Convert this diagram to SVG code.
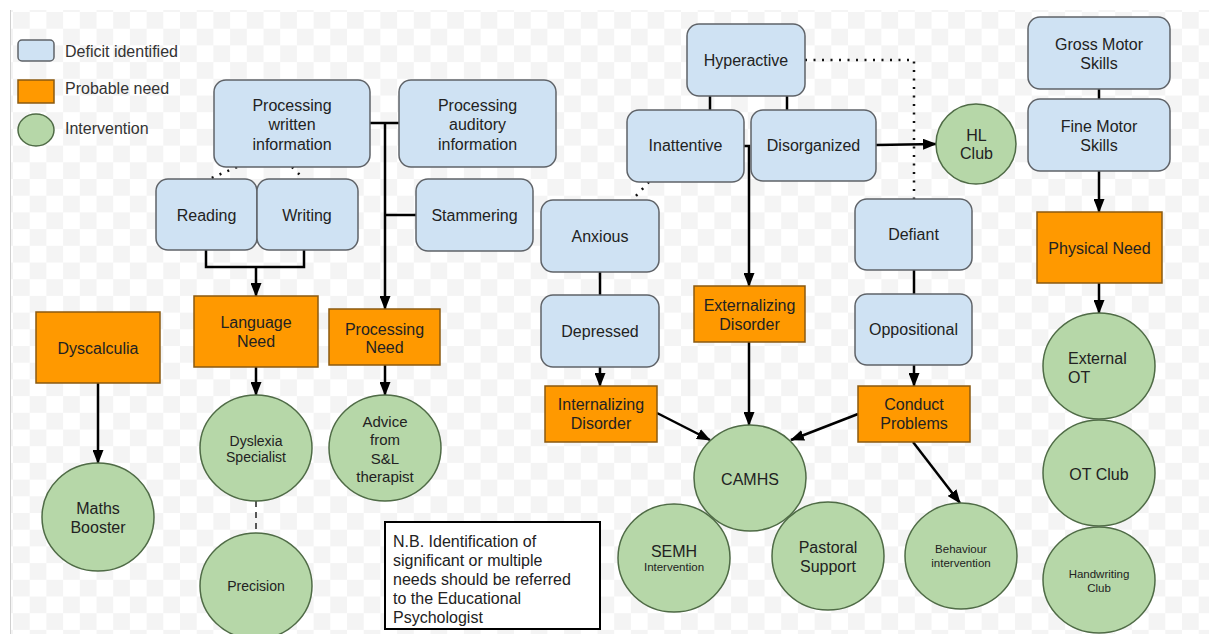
<svg xmlns="http://www.w3.org/2000/svg" width="1209" height="634" viewBox="0 0 1209 634">
<style>
text{font-family:"Liberation Sans",Arial,sans-serif;fill:#222;}
.t16{font-size:16px;text-anchor:middle;}
.t15{font-size:15px;text-anchor:middle;}
.t14{font-size:14px;text-anchor:middle;}
.t11{font-size:11.5px;text-anchor:middle;}
.leg{font-size:16px;fill:#333;}
.note{font-size:16px;fill:#222;}
.blue{fill:#cfe2f3;stroke:#5f6368;stroke-width:1.5;}
.orange{fill:#ff9900;stroke:#8a5a10;stroke-width:1.5;}
.green{fill:#b6d7a8;stroke:#4f6b46;stroke-width:1.5;}
.c{fill:none;stroke:#000;stroke-width:2.5;}
.a{fill:none;stroke:#000;stroke-width:2.5;marker-end:url(#arr);}
.dot{fill:none;stroke:#111;stroke-width:2.5;stroke-dasharray:2 6.5;}
.dash{fill:none;stroke:#222;stroke-width:1.5;stroke-dasharray:6 5;}
</style>
<defs>
<pattern id="chk" patternUnits="userSpaceOnUse" x="13" y="12" width="33.4" height="33.4">
<rect width="33.4" height="33.4" fill="#ffffff"/>
<rect width="16.7" height="16.7" fill="#f4f4f4"/>
<rect x="16.7" y="16.7" width="16.7" height="16.7" fill="#f4f4f4"/>
</pattern>
<marker id="arr" markerUnits="userSpaceOnUse" markerWidth="14" markerHeight="11" refX="13" refY="5.5" orient="auto">
<path d="M0,0 L14,5.5 L0,11 Z" fill="#000"/>
</marker>
</defs>
<rect width="1209" height="634" fill="#fff"/>
<rect x="10" y="10" width="1199" height="624" fill="url(#chk)"/>
<line x1="10.5" y1="10" x2="10.5" y2="634" stroke="#d0d0d0" stroke-width="1"/>

<g id="legend">
<rect x="18" y="40" width="36" height="21" rx="4" class="blue"/>
<text x="65" y="56.5" class="leg">Deficit identified</text>
<rect x="18" y="80" width="36" height="23" class="orange"/>
<text x="65" y="94" class="leg">Probable need</text>
<ellipse cx="36" cy="130" rx="18" ry="16" class="green"/>
<text x="65" y="133.5" class="leg">Intervention</text>
</g>

<g id="connectors">
<line x1="370" y1="123" x2="399" y2="123" class="c"/>
<line x1="385" y1="123" x2="385" y2="309" class="a"/>
<line x1="385" y1="215" x2="416" y2="215" class="c"/>
<polyline points="206,250 206,267 304,267 304,250" class="c"/>
<line x1="256" y1="267" x2="256" y2="296" class="a"/>
<line x1="237" y1="167" x2="209" y2="179" class="dot"/>
<line x1="292" y1="167" x2="304" y2="179" class="dot"/>
<line x1="710" y1="96" x2="710" y2="110" class="c"/>
<line x1="787" y1="96" x2="787" y2="110" class="c"/>
<polyline points="744,146 749,146 749,286" class="a"/>
<line x1="876" y1="145" x2="936" y2="144" class="a"/>
<polyline points="805,60 914,60 914,199" class="dot"/>
<line x1="649" y1="182" x2="633" y2="199" class="dot"/>
<line x1="600" y1="272" x2="600" y2="295" class="c"/>
<line x1="600" y1="367" x2="600" y2="386" class="a"/>
<line x1="914" y1="270" x2="914" y2="294" class="c"/>
<line x1="914" y1="365" x2="914" y2="386" class="a"/>
<line x1="749" y1="342" x2="749" y2="425" class="a"/>
<line x1="657" y1="413" x2="710" y2="440" class="a"/>
<line x1="858" y1="414" x2="791" y2="440" class="a"/>
<line x1="913" y1="442" x2="960" y2="503" class="a"/>
<line x1="1099" y1="89" x2="1099" y2="99" class="c"/>
<line x1="1099" y1="171" x2="1099" y2="212" class="a"/>
<line x1="1099" y1="283" x2="1099" y2="313" class="a"/>
<line x1="98" y1="383" x2="98" y2="463" class="a"/>
<line x1="256" y1="367" x2="256" y2="395" class="a"/>
<line x1="385" y1="365" x2="385" y2="395" class="a"/>
<line x1="256" y1="501" x2="256" y2="533" class="dash"/>
</g>

<g id="n-proc-written"><rect x="214" y="80" width="156" height="87" rx="12" class="blue"/>
<text class="t16" x="292" y="110.5">Processing</text><text class="t16" x="292" y="130">written</text><text class="t16" x="292" y="149.5">information</text></g>
<g id="n-proc-auditory"><rect x="399" y="80" width="157" height="87" rx="12" class="blue"/>
<text class="t16" x="477.5" y="110.5">Processing</text><text class="t16" x="477.5" y="130">auditory</text><text class="t16" x="477.5" y="149.5">information</text></g>
<g id="n-reading"><rect x="156" y="179" width="101" height="71" rx="12" class="blue"/>
<text class="t16" x="206.5" y="220.5">Reading</text></g>
<g id="n-writing"><rect x="257" y="179" width="101" height="71" rx="12" class="blue"/>
<text class="t16" x="307" y="220.5">Writing</text></g>
<g id="n-stammering"><rect x="416" y="179" width="117" height="72" rx="12" class="blue"/>
<text class="t16" x="474.5" y="220.5">Stammering</text></g>
<g id="n-hyperactive"><rect x="687" y="24" width="118" height="72" rx="12" class="blue"/>
<text class="t16" x="746" y="66">Hyperactive</text></g>
<g id="n-inattentive"><rect x="627" y="110" width="117" height="72" rx="12" class="blue"/>
<text class="t16" x="685.5" y="151">Inattentive</text></g>
<g id="n-disorganized"><rect x="751" y="110" width="125" height="71" rx="12" class="blue"/>
<text class="t16" x="813.5" y="151">Disorganized</text></g>
<g id="n-anxious"><rect x="541" y="200" width="118" height="72" rx="12" class="blue"/>
<text class="t16" x="600" y="242">Anxious</text></g>
<g id="n-depressed"><rect x="541" y="295" width="118" height="72" rx="12" class="blue"/>
<text class="t16" x="600" y="337">Depressed</text></g>
<g id="n-defiant"><rect x="855" y="199" width="117" height="71" rx="12" class="blue"/>
<text class="t16" x="913.5" y="240">Defiant</text></g>
<g id="n-oppositional"><rect x="855" y="294" width="117" height="71" rx="12" class="blue"/>
<text class="t16" x="913.5" y="335">Oppositional</text></g>
<g id="n-gross-motor"><rect x="1028" y="17" width="142" height="72" rx="12" class="blue"/>
<text class="t16" x="1099" y="50">Gross Motor</text><text class="t16" x="1099" y="69">Skills</text></g>
<g id="n-fine-motor"><rect x="1028" y="99" width="142" height="72" rx="12" class="blue"/>
<text class="t16" x="1099" y="132">Fine Motor</text><text class="t16" x="1099" y="151">Skills</text></g>

<g id="n-dyscalculia"><rect x="36" y="312" width="124" height="71" class="orange"/>
<text class="t16" x="98" y="353.5">Dyscalculia</text></g>
<g id="n-language-need"><rect x="194" y="296" width="124" height="71" class="orange"/>
<text class="t16" x="256" y="327.5">Language</text><text class="t16" x="256" y="347">Need</text></g>
<g id="n-processing-need"><rect x="329" y="309" width="111" height="56" class="orange"/>
<text class="t16" x="384.5" y="334.5">Processing</text><text class="t16" x="384.5" y="353">Need</text></g>
<g id="n-externalizing"><rect x="694" y="286" width="111" height="56" class="orange"/>
<text class="t16" x="749.5" y="310.5">Externalizing</text><text class="t16" x="749.5" y="329.5">Disorder</text></g>
<g id="n-internalizing"><rect x="545" y="386" width="112" height="56" class="orange"/>
<text class="t16" x="601" y="410">Internalizing</text><text class="t16" x="601" y="429">Disorder</text></g>
<g id="n-conduct"><rect x="858" y="386" width="112" height="56" class="orange"/>
<text class="t16" x="914" y="410">Conduct</text><text class="t16" x="914" y="429">Problems</text></g>
<g id="n-physical-need"><rect x="1037" y="212" width="125" height="71" class="orange"/>
<text class="t16" x="1099.5" y="254">Physical Need</text></g>

<g id="n-hl-club"><ellipse cx="976" cy="144" rx="40" ry="40" class="green"/>
<text class="t16" x="976.5" y="140.5">HL</text><text class="t16" x="976.5" y="159">Club</text></g>
<g id="n-maths-booster"><ellipse cx="98" cy="517" rx="56" ry="54" class="green"/>
<text class="t16" x="98" y="513.5">Maths</text><text class="t16" x="98" y="532.5">Booster</text></g>
<g id="n-dyslexia"><ellipse cx="256" cy="448" rx="56" ry="53" class="green"/>
<text class="t14" x="256" y="445.5">Dyslexia</text><text class="t14" x="256" y="461.5">Specialist</text></g>
<g id="n-precision"><ellipse cx="256" cy="586" rx="56" ry="53" class="green"/>
<text class="t14" x="256" y="591">Precision</text></g>
<g id="n-advice"><ellipse cx="385" cy="448" rx="56" ry="53" class="green"/>
<text class="t15" x="385" y="427">Advice</text><text class="t15" x="385" y="445">from</text><text class="t15" x="385" y="464">S&amp;L</text><text class="t15" x="385" y="482">therapist</text></g>
<g id="n-semh"><ellipse cx="674" cy="558" rx="56" ry="54" class="green"/>
<text class="t16" x="674" y="556.5">SEMH</text><text class="t11" x="674" y="571">Intervention</text></g>
<g id="n-pastoral"><ellipse cx="828" cy="556" rx="56" ry="54" class="green"/>
<text class="t16" x="828" y="552.5">Pastoral</text><text class="t16" x="828" y="571.5">Support</text></g>
<g id="n-camhs"><ellipse cx="750" cy="478" rx="56" ry="53" class="green"/>
<text class="t16" x="750" y="484.5">CAMHS</text></g>
<g id="n-behaviour"><ellipse cx="961" cy="556" rx="56" ry="53" class="green"/>
<text class="t11" x="961" y="553">Behaviour</text><text class="t11" x="961" y="567">intervention</text></g>
<g id="n-external-ot"><ellipse cx="1099" cy="366" rx="56" ry="53" class="green"/>
<text class="t16" x="1068" y="363.5" style="text-anchor:start">External</text><text class="t16" x="1068" y="382.5" style="text-anchor:start">OT</text></g>
<g id="n-ot-club"><ellipse cx="1099" cy="473" rx="56" ry="53" class="green"/>
<text class="t16" x="1099" y="479.5">OT Club</text></g>
<g id="n-handwriting"><ellipse cx="1099" cy="580" rx="56" ry="53" class="green"/>
<text class="t11" x="1099" y="578">Handwriting</text><text class="t11" x="1099" y="591.5">Club</text></g>

<g id="n-note"><rect x="385" y="522" width="215" height="107" fill="#fff" stroke="#000" stroke-width="2"/>
<text class="note" x="393" y="546.5">N.B. Identification of</text>
<text class="note" x="393" y="565.5">significant or multiple</text>
<text class="note" x="393" y="584.5">needs should be referred</text>
<text class="note" x="393" y="603.5">to the Educational</text>
<text class="note" x="393" y="623">Psychologist</text></g>
</svg>
